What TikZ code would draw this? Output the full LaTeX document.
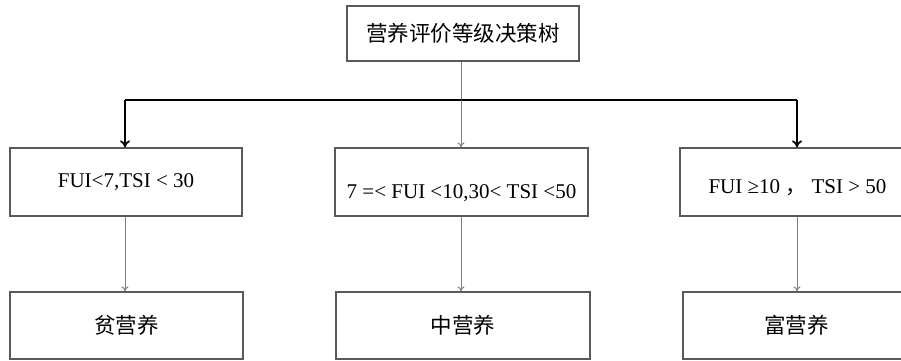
\documentclass[tikz,border=0pt]{standalone}
\usepackage{fontspec}
\setmainfont{Liberation Serif}
\newfontfamily\cjk{Noto Sans CJK SC}
\usetikzlibrary{arrows.meta}
\definecolor{boxgray}{HTML}{5A5A5A}
\definecolor{linegray}{HTML}{7F7F7F}
\begin{document}
\begin{tikzpicture}[x=1pt,y=-1pt,
  box/.style={draw=boxgray,line width=1.3pt,fill=white,inner sep=0pt,align=center},
  thinarrow/.style={draw=linegray,line width=1pt,-{To[length=5pt,width=7pt]}},
  thickarrow/.style={draw=black,line width=1.8pt,-{To[length=7pt,width=10pt]}},
  cjktext/.style={font=\cjk\fontsize{21.5}{25}\selectfont},
  latintext/.style={font=\fontsize{21}{25}\selectfont}]
\useasboundingbox (0,0) rectangle (901,360);
\clip (0,0) rectangle (901,360);
% top
\node[box,cjktext,minimum width=232pt,minimum height=55pt] (top) at (463,33.5) {营养评价等级决策树};
% conditions
\node[box,latintext,minimum width=232pt,minimum height=68pt] (c1) at (126,182) {FUI<7,TSI < 30};
\node[box,minimum width=253pt,minimum height=68pt,
  label={[latintext,yshift=-11pt]center:7 =< FUI <10,30< TSI <50}] (c2) at (461.5,182) {};
\node[box,minimum width=235pt,minimum height=68pt,
  label={[latintext,yshift=-6pt]center:FUI ≥10 {\cjk ，} TSI > 50}] (c3) at (797.5,182) {};
% results
\node[box,cjktext,minimum width=233pt,minimum height=67pt] (r1) at (126.5,325.5) {贫营养};
\node[box,cjktext,minimum width=254pt,minimum height=67pt] (r2) at (463,325.5) {中营养};
\node[box,cjktext,minimum width=227pt,minimum height=67pt] (r3) at (796.5,325.5) {富营养};
% connectors
\coordinate (hl) at (125,100);
\coordinate (hm) at (461,100);
\coordinate (hr) at (797,100);
\draw[draw=linegray,line width=1pt] (top.south -| hm) -- (hm);
\draw[draw=black,line width=1.8pt] (hl) -- (hr);
\draw[thickarrow] (hl) -- (hl |- c1.north);
\draw[thickarrow] (hr) -- (hr |- c3.north);
\draw[thinarrow] (hm) -- (hm |- c2.north);
\draw[thinarrow] (c1.south -| hl) -- (hl |- r1.north);
\draw[thinarrow] (c2.south -| hm) -- (hm |- r2.north);
\draw[thinarrow] (c3.south -| hr) -- (hr |- r3.north);
\end{tikzpicture}
\end{document}
